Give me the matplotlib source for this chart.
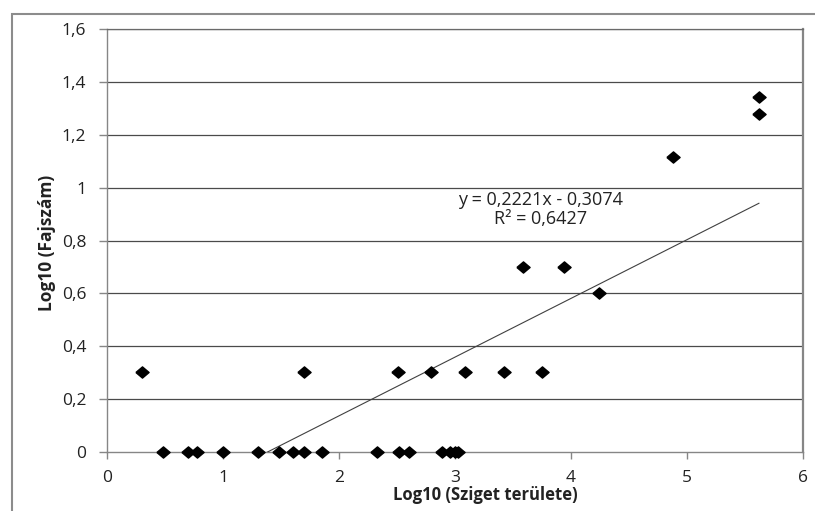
import matplotlib
matplotlib.use("Agg")
import matplotlib.pyplot as plt
from matplotlib.patches import Rectangle

plt.rcParams['font.family'] = ['Open Sans', 'DejaVu Sans']

# Data (log10 island area, log10 species count)
x_vals = [0.48, 0.70, 0.78, 1.00, 1.30, 1.48, 1.60, 1.70, 1.85, 2.33, 2.52, 2.60,
          2.89, 2.96, 3.00, 3.03,
          0.30, 1.70, 2.51, 2.79, 3.09, 3.42, 3.75,
          3.59, 3.94, 4.24, 4.88, 5.62, 5.62]
y_vals = [0.0] * 16 + [0.301] * 7 + [0.699, 0.699, 0.602, 1.114, 1.279, 1.342]

slope = 0.2221
intercept = -0.3074
eq_text = "y = 0,2221x - 0,3074"
r2_text = "R² = 0,6427"

x_ticks = [0, 1, 2, 3, 4, 5, 6]
x_labels = ["0", "1", "2", "3", "4", "5", "6"]
y_ticks = [0, 0.2, 0.4, 0.6, 0.8, 1.0, 1.2, 1.4, 1.6]
y_labels = ["0", "0,2", "0,4", "0,6", "0,8", "1", "1,2", "1,4", "1,6"]
x_title = "Log10 (Sziget területe)"
y_title = "Log10 (Fajszám)"

W, H = 815, 511
fig = plt.figure(figsize=(W / 100, H / 100), dpi=100)
ax = fig.add_axes([107 / W, 1 - 452 / H, (803 - 107) / W, (452 - 29) / H])

ax.set_xlim(0, 6)
ax.set_ylim(0, 1.6)

for yv in y_ticks[1:]:
    ax.axhline(yv, color='#4a4a4a', lw=0.9, zorder=1)

diamond = [(-1, 0), (0, 0.85), (1, 0), (0, -0.85), (-1, 0)]
ax.plot(x_vals, y_vals, linestyle='none', marker=diamond, markersize=9.5,
        color='black', zorder=4, clip_on=False)

tx = [min(x_vals), max(x_vals)]
ty = [slope * v + intercept for v in tx]
ax.plot(tx, ty, color='#404040', lw=0.8, zorder=3)

ax.set_xticks(x_ticks)
ax.set_xticklabels(x_labels)
ax.set_yticks(y_ticks)
ax.set_yticklabels(y_labels)
ax.tick_params(axis='both', colors='#868686', labelcolor='#222222', labelsize=12.5)
ax.tick_params(axis='y', length=6, width=1, pad=9)
ax.tick_params(axis='x', length=5, width=1, pad=8)

for s in ['left', 'bottom']:
    ax.spines[s].set_color('#868686')
    ax.spines[s].set_linewidth(1)
ax.spines['top'].set_color('#6a6a6a')
ax.spines['top'].set_linewidth(0.9)
ax.spines['right'].set_color('#868686')
ax.spines['right'].set_linewidth(1.6)

fig.text(485 / W, 1 - 495 / H, x_title, fontsize=12, fontweight='bold', ha='center', va='center', color='#222222')
fig.text(47 / W, 1 - 243 / H, y_title, fontsize=12.5, fontweight='bold', ha='center', va='center', rotation=90, color='#222222')
fig.text(541 / W, 1 - 200 / H, eq_text, fontsize=13, ha='center', va='center', color='#222222')
fig.text(541 / W, 1 - 219 / H, r2_text, fontsize=13, ha='center', va='center', color='#222222')

fig.add_artist(Rectangle((12 / W, -0.2), 2, (H - 14) / H + 0.2, transform=fig.transFigure,
                         fill=False, edgecolor='#8c8c8c', lw=1.5))

fig.savefig('out.png', dpi=100)
